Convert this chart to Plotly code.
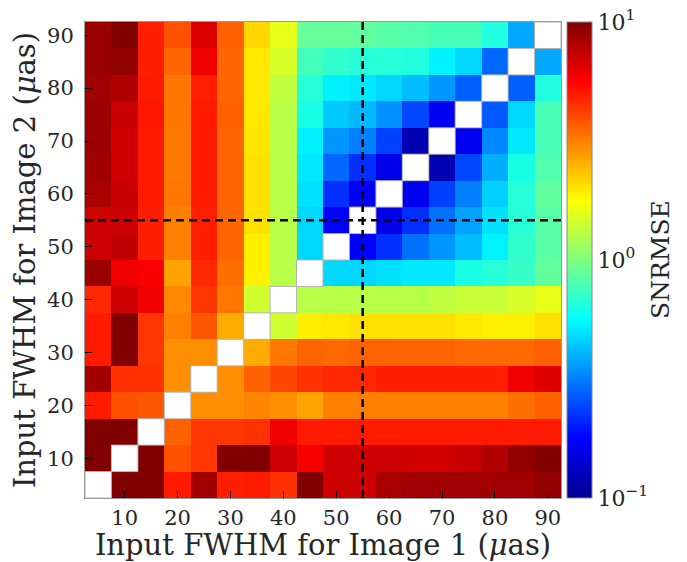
import numpy as np
import plotly.graph_objects as go

# FWHM grid (micro-arcseconds)
fwhm_image1 = [5, 10, 15, 20, 25, 30, 35, 40, 45, 50, 55, 60, 65, 70, 75, 80, 85, 90]
fwhm_image2 = [5, 10, 15, 20, 25, 30, 35, 40, 45, 50, 55, 60, 65, 70, 75, 80, 85, 90]
REF_FWHM = 55
N = None

# SNRMSE rows: one row per Image-2 FWHM (bottom to top), columns = Image-1 FWHM
row_05 = [N, 10, 10, 5.0, 8.6, 4.9, 5.0, 4.5, 10, 7.1, 7.1, 8.3, 8.6, 8.6, 8.6, 8.6, 8.6, 9.3]
row_10 = [10, N, 10, 3.9, 4.4, 10, 10, 7.1, 5.8, 7.1, 7.1, 7.1, 6.95, 6.95, 7.2, 8.0, 9.3, 10]
row_15 = [10, 10, N, 3.65, 4.4, 4.4, 4.5, 6.0, 5.0, 5.0, 5.0, 5.0, 5.0, 5.0, 5.0, 5.0, 5.0, 5.0]
row_20 = [5.0, 3.9, 3.8, N, 2.95, 2.95, 3.1, 2.95, 2.7, 3.16, 3.16, 3.16, 3.16, 3.16, 3.16, 3.16, 3.4, 3.65]
row_25 = [8.6, 4.5, 4.5, 2.95, N, 2.95, 3.65, 4.1, 4.5, 4.7, 4.7, 4.9, 4.9, 4.9, 4.9, 4.9, 6.0, 6.6]
row_30 = [5.0, 10, 4.4, 2.95, 2.95, N, 2.6, 3.3, 3.6, 3.5, 3.6, 3.6, 3.6, 3.6, 3.5, 3.5, 3.5, 3.65]
row_35 = [5.0, 10, 4.4, 3.16, 3.8, 2.6, N, 1.44, 1.92, 1.97, 2.04, 2.04, 2.04, 2.04, 1.97, 1.9, 1.9, 2.04]
row_40 = [4.7, 7.1, 6.0, 3.05, 4.4, 3.3, 1.44, N, 1.29, 1.29, 1.29, 1.29, 1.29, 1.33, 1.39, 1.39, 1.49, 1.6]
row_45 = [8.9, 6.0, 5.8, 2.7, 4.7, 3.4, 1.9, 1.29, N, 0.47, 0.47, 0.49, 0.51, 0.51, 0.63, 0.67, 0.72, 0.87]
row_50 = [7.1, 7.5, 4.9, 3.16, 4.9, 3.55, 1.9, 1.29, 0.47, N, 0.178, 0.22, 0.295, 0.35, 0.42, 0.53, 0.70, 0.84]
row_55 = [7.1, 7.1, 4.9, 3.16, 4.9, 3.55, 2.04, 1.29, 0.47, 0.178, N, 0.16, 0.22, 0.295, 0.37, 0.49, 0.67, 0.84]
row_60 = [8.3, 7.2, 5.0, 3.3, 5.0, 3.55, 2.04, 1.29, 0.49, 0.22, 0.166, N, 0.165, 0.237, 0.316, 0.455, 0.67, 0.87]
row_65 = [8.6, 6.95, 5.0, 3.24, 5.0, 3.55, 2.04, 1.29, 0.51, 0.284, 0.22, 0.16, N, 0.12, 0.245, 0.39, 0.63, 0.81]
row_70 = [8.9, 6.95, 5.0, 3.24, 5.0, 3.55, 2.0, 1.29, 0.53, 0.35, 0.316, 0.237, 0.12, N, 0.165, 0.33, 0.51, 0.78]
row_75 = [8.9, 7.2, 5.1, 3.3, 5.0, 3.65, 1.97, 1.29, 0.63, 0.44, 0.41, 0.34, 0.245, 0.166, N, 0.264, 0.47, 0.78]
row_80 = [8.6, 8.0, 5.0, 3.3, 4.9, 3.55, 1.97, 1.33, 0.67, 0.53, 0.51, 0.47, 0.42, 0.35, 0.274, N, 0.274, 0.65]
row_85 = [8.9, 9.3, 4.9, 3.55, 6.0, 3.55, 1.97, 1.49, 0.76, 0.70, 0.67, 0.67, 0.65, 0.53, 0.47, 0.284, N, 0.38]
row_90 = [8.9, 10, 4.9, 3.9, 6.6, 3.65, 2.12, 1.6, 0.89, 0.89, 0.87, 0.84, 0.81, 0.78, 0.78, 0.65, 0.38, N]

rows = [row_05, row_10, row_15, row_20, row_25, row_30, row_35, row_40, row_45,
        row_50, row_55, row_60, row_65, row_70, row_75, row_80, row_85, row_90]

x_ticks = [10, 20, 30, 40, 50, 60, 70, 80, 90]
cbar_tickvals = [-1, 0, 1]
cbar_ticktext = ["10<sup>−1</sup>", "10<sup>0</sup>", "10<sup>1</sup>"]

z = np.array([[np.nan if v is None else v for v in r] for r in rows], dtype=float)
zlog = np.log10(z)

jet = [[0.0, "rgb(0,0,143)"], [0.125, "rgb(0,0,255)"], [0.375, "rgb(0,255,255)"],
       [0.625, "rgb(255,255,0)"], [0.875, "rgb(255,0,0)"], [1.0, "rgb(128,0,0)"]]

FONT = "DejaVu Serif"
TXT = "#262626"

fig = go.Figure()
fig.add_trace(go.Heatmap(
    x=fwhm_image1, y=fwhm_image2, z=zlog, zmin=-1, zmax=1,
    colorscale=jet, hoverongaps=False,
    colorbar=dict(
        tickvals=cbar_tickvals, ticktext=cbar_ticktext,
        thickness=25, len=1.0, lenmode="fraction", y=0.5, yanchor="middle",
        x=1.0, xanchor="left", xpad=6, ypad=0,
        outlinewidth=1, outlinecolor="#888888",
        ticks="", ticklabeloverflow="allow",
        tickfont=dict(family=FONT, size=22, color=TXT),
    ),
))

# grey outline around the empty (diagonal) cells, derived from the data
half = (fwhm_image1[1] - fwhm_image1[0]) / 2
for j, r in enumerate(rows):
    for i, v in enumerate(r):
        if v is None:
            fig.add_shape(type="rect", xref="x", yref="y",
                          x0=fwhm_image1[i] - half, x1=fwhm_image1[i] + half,
                          y0=fwhm_image2[j] - half, y1=fwhm_image2[j] + half,
                          line=dict(color="#b4b4b4", width=1), fillcolor="rgba(0,0,0,0)")

fig.add_shape(type="line", x0=REF_FWHM, x1=REF_FWHM, y0=0, y1=1, xref="x", yref="paper",
              line=dict(color="black", width=2.5, dash="8px,5px"))
fig.add_shape(type="line", y0=REF_FWHM, y1=REF_FWHM, x0=0, x1=1, yref="y", xref="paper",
              line=dict(color="black", width=2.5, dash="8px,5px"))

fig.add_annotation(text="SNRMSE", x=1.208, y=0.5, xref="paper", yref="paper",
                   xanchor="center", yanchor="middle",
                   textangle=-90, showarrow=False,
                   font=dict(family=FONT, size=25, color=TXT))

axis_common = dict(
    showgrid=False, zeroline=False, showline=True, mirror=True,
    linecolor="#999999", linewidth=1,
    ticks="inside", ticklen=7, tickcolor="black", tickwidth=1,
    tickfont=dict(family=FONT, size=21, color=TXT),
)

# page body adds an 8px offset; figure size compensates so the chart fills 687x562
fig.update_layout(
    width=679, height=554,
    margin=dict(l=77, r=126, t=14, b=64, autoexpand=False),
    paper_bgcolor="white", plot_bgcolor="white",
    xaxis=dict(title=dict(text="Input FWHM for Image 1 (<i>μ</i>as)", standoff=0,
                          font=dict(family=FONT, size=29, color=TXT)),
               tickvals=x_ticks, range=[2.5, 92.5], ticklabelstandoff=1, **axis_common),
    yaxis=dict(title=dict(text="Input FWHM for Image 2 (<i>μ</i>as)", standoff=2,
                          font=dict(family=FONT, size=29, color=TXT)),
               tickvals=x_ticks, range=[2.5, 92.5], ticklabelstandoff=6, **axis_common),
)

fig.write_html("out.html")
